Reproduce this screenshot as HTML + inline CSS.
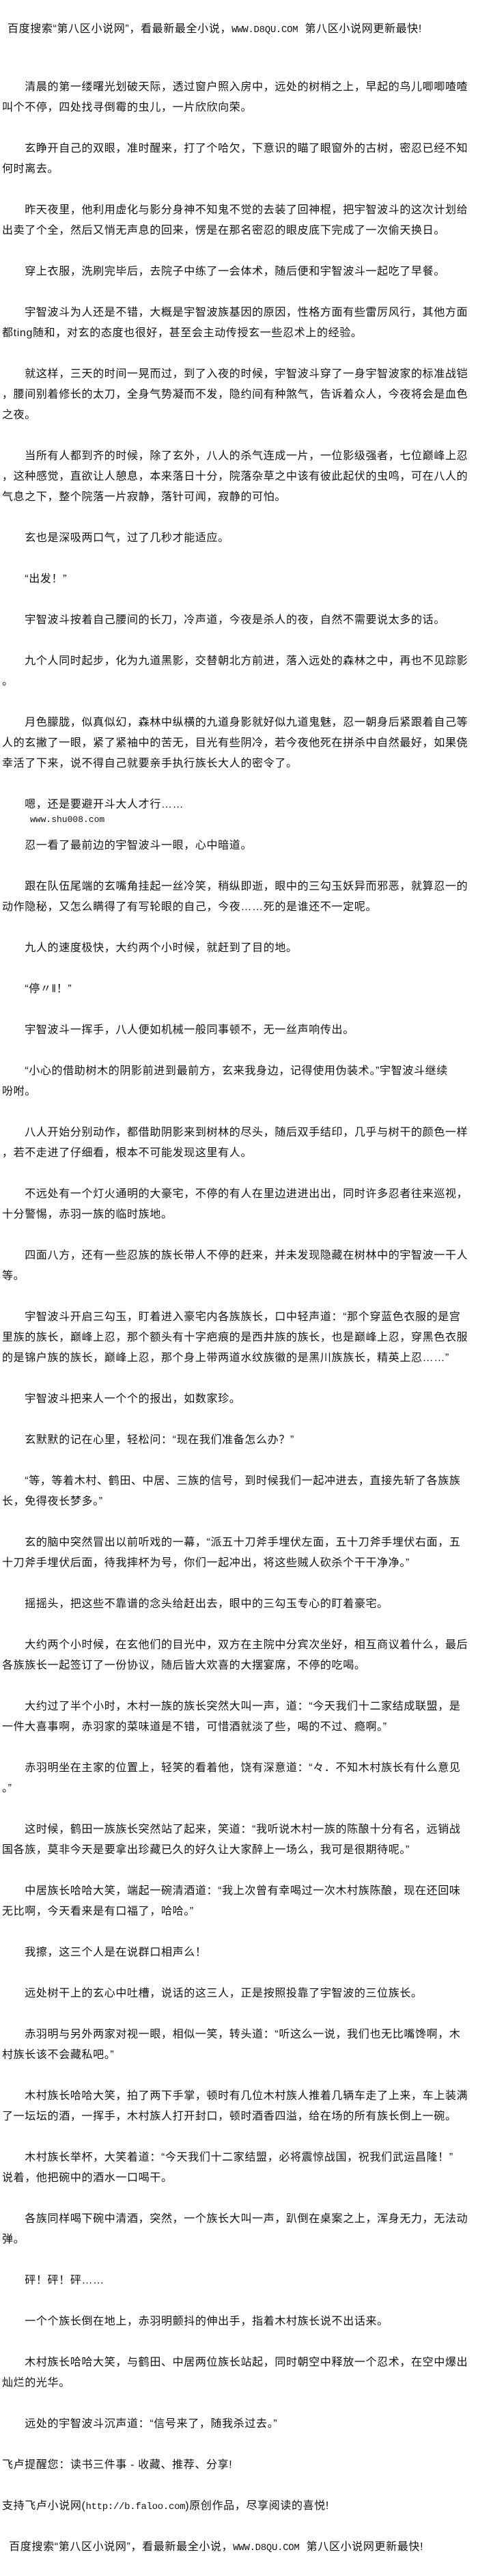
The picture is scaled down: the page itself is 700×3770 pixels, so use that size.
<!DOCTYPE html>
<html><head><meta charset="utf-8">
<style>
html,body{margin:0;padding:0;background:#fff;}
body{width:700px;height:3770px;position:relative;overflow:hidden;color:#111;
font-family:"Liberation Sans","Noto Sans CJK SC",sans-serif;font-size:16px;}
#c{position:absolute;left:3px;top:113px;width:700px;}
#c div{height:30px;line-height:30px;white-space:pre;letter-spacing:0.64px;}
.hd{position:absolute;left:11px;height:30px;line-height:30px;white-space:pre;letter-spacing:0.64px;}
.m{font-family:"Liberation Mono",monospace;font-size:14px;letter-spacing:-0.3px;}
#www{position:absolute;left:44px;top:1193px;line-height:14px;font-family:"Liberation Mono",monospace;font-size:13px;}
</style></head><body>
<div class="hd" style="top:28px">百度搜索“第八区小说网”，看最新最全小说，<span class="m">WWW.D8QU.COM</span>  第八区小说网更新最快!</div>
<div id="www">www.shu008.com</div>
<div id="c">
<div>　　清晨的第一缕曙光划破天际，透过窗户照入房中，远处的树梢之上，早起的鸟儿唧唧喳喳</div>
<div>叫个不停，四处找寻倒霉的虫儿，一片欣欣向荣。</div>
<div></div>
<div>　　玄睁开自己的双眼，准时醒来，打了个哈欠，下意识的瞄了眼窗外的古树，密忍已经不知</div>
<div>何时离去。</div>
<div></div>
<div>　　昨天夜里，他利用虚化与影分身神不知鬼不觉的去装了回神棍，把宇智波斗的这次计划给</div>
<div>出卖了个全，然后又悄无声息的回来，愣是在那名密忍的眼皮底下完成了一次偷天换日。</div>
<div></div>
<div>　　穿上衣服，洗刷完毕后，去院子中练了一会体术，随后便和宇智波斗一起吃了早餐。</div>
<div></div>
<div>　　宇智波斗为人还是不错，大概是宇智波族基因的原因，性格方面有些雷厉风行，其他方面</div>
<div>都ting随和，对玄的态度也很好，甚至会主动传授玄一些忍术上的经验。</div>
<div></div>
<div>　　就这样，三天的时间一晃而过，到了入夜的时候，宇智波斗穿了一身宇智波家的标准战铠</div>
<div>，腰间别着修长的太刀，全身气势凝而不发，隐约间有种煞气，告诉着众人，今夜将会是血色</div>
<div>之夜。</div>
<div></div>
<div>　　当所有人都到齐的时候，除了玄外，八人的杀气连成一片，一位影级强者，七位巅峰上忍</div>
<div>，这种感觉，直欲让人憩息，本来落日十分，院落杂草之中该有彼此起伏的虫鸣，可在八人的</div>
<div>气息之下，整个院落一片寂静，落针可闻，寂静的可怕。</div>
<div></div>
<div>　　玄也是深吸两口气，过了几秒才能适应。</div>
<div></div>
<div>　　“出发！”</div>
<div></div>
<div>　　宇智波斗按着自己腰间的长刀，冷声道，今夜是杀人的夜，自然不需要说太多的话。</div>
<div></div>
<div>　　九个人同时起步，化为九道黑影，交替朝北方前进，落入远处的森林之中，再也不见踪影</div>
<div>。</div>
<div></div>
<div>　　月色朦胧，似真似幻，森林中纵横的九道身影就好似九道鬼魅，忍一朝身后紧跟着自己等</div>
<div>人的玄撇了一眼，紧了紧袖中的苦无，目光有些阴冷，若今夜他死在拼杀中自然最好，如果侥</div>
<div>幸活了下来，说不得自己就要亲手执行族长大人的密令了。</div>
<div></div>
<div>　　嗯，还是要避开斗大人才行……</div>
<div></div>
<div>　　忍一看了最前边的宇智波斗一眼，心中暗道。</div>
<div></div>
<div>　　跟在队伍尾端的玄嘴角挂起一丝冷笑，稍纵即逝，眼中的三勾玉妖异而邪恶，就算忍一的</div>
<div>动作隐秘，又怎么瞒得了有写轮眼的自己，今夜……死的是谁还不一定呢。</div>
<div></div>
<div>　　九人的速度极快，大约两个小时候，就赶到了目的地。</div>
<div></div>
<div>　　“停〃‖！”</div>
<div></div>
<div>　　宇智波斗一挥手，八人便如机械一般同事顿不，无一丝声响传出。</div>
<div></div>
<div>　　“小心的借助树木的阴影前进到最前方，玄来我身边，记得使用伪装术。”宇智波斗继续</div>
<div>吩咐。</div>
<div></div>
<div>　　八人开始分别动作，都借助阴影来到树林的尽头，随后双手结印，几乎与树干的颜色一样</div>
<div>，若不走进了仔细看，根本不可能发现这里有人。</div>
<div></div>
<div>　　不远处有一个灯火通明的大豪宅，不停的有人在里边进进出出，同时许多忍者往来巡视，</div>
<div>十分警惕，赤羽一族的临时族地。</div>
<div></div>
<div>　　四面八方，还有一些忍族的族长带人不停的赶来，并未发现隐藏在树林中的宇智波一干人</div>
<div>等。</div>
<div></div>
<div>　　宇智波斗开启三勾玉，盯着进入豪宅内各族族长，口中轻声道：“那个穿蓝色衣服的是宫</div>
<div>里族的族长，巅峰上忍，那个额头有十字疤痕的是西井族的族长，也是巅峰上忍，穿黑色衣服</div>
<div>的是锦户族的族长，巅峰上忍，那个身上带两道水纹族徽的是黑川族族长，精英上忍……”</div>
<div></div>
<div>　　宇智波斗把来人一个个的报出，如数家珍。</div>
<div></div>
<div>　　玄默默的记在心里，轻松问：“现在我们准备怎么办？”</div>
<div></div>
<div>　　“等，等着木村、鹤田、中居、三族的信号，到时候我们一起冲进去，直接先斩了各族族</div>
<div>长，免得夜长梦多。”</div>
<div></div>
<div>　　玄的脑中突然冒出以前听戏的一幕，“派五十刀斧手埋伏左面，五十刀斧手埋伏右面，五</div>
<div>十刀斧手埋伏后面，待我摔杯为号，你们一起冲出，将这些贼人砍杀个干干净净。”</div>
<div></div>
<div>　　摇摇头，把这些不靠谱的念头给赶出去，眼中的三勾玉专心的盯着豪宅。</div>
<div></div>
<div>　　大约两个小时候，在玄他们的目光中，双方在主院中分宾次坐好，相互商议着什么，最后</div>
<div>各族族长一起签订了一份协议，随后皆大欢喜的大摆宴席，不停的吃喝。</div>
<div></div>
<div>　　大约过了半个小时，木村一族的族长突然大叫一声，道：“今天我们十二家结成联盟，是</div>
<div>一件大喜事啊，赤羽家的菜味道是不错，可惜酒就淡了些，喝的不过、瘾啊。”</div>
<div></div>
<div>　　赤羽明坐在主家的位置上，轻笑的看着他，饶有深意道：“々．不知木村族长有什么意见</div>
<div>。”</div>
<div></div>
<div>　　这时候，鹤田一族族长突然站了起来，笑道：“我听说木村一族的陈酿十分有名，远销战</div>
<div>国各族，莫非今天是要拿出珍藏已久的好久让大家醉上一场么，我可是很期待呢。”</div>
<div></div>
<div>　　中居族长哈哈大笑，端起一碗清酒道：“我上次曾有幸喝过一次木村族陈酿，现在还回味</div>
<div>无比啊，今天看来是有口福了，哈哈。”</div>
<div></div>
<div>　　我擦，这三个人是在说群口相声么！</div>
<div></div>
<div>　　远处树干上的玄心中吐槽，说话的这三人，正是按照投靠了宇智波的三位族长。</div>
<div></div>
<div>　　赤羽明与另外两家对视一眼，相似一笑，转头道：“听这么一说，我们也无比嘴馋啊，木</div>
<div>村族长该不会藏私吧。”</div>
<div></div>
<div>　　木村族长哈哈大笑，拍了两下手掌，顿时有几位木村族人推着几辆车走了上来，车上装满</div>
<div>了一坛坛的酒，一挥手，木村族人打开封口，顿时酒香四溢，给在场的所有族长倒上一碗。</div>
<div></div>
<div>　　木村族长举杯，大笑着道：“今天我们十二家结盟，必将震惊战国，祝我们武运昌隆！”</div>
<div>说着，他把碗中的酒水一口喝干。</div>
<div></div>
<div>　　各族同样喝下碗中清酒，突然，一个族长大叫一声，趴倒在桌案之上，浑身无力，无法动</div>
<div>弹。</div>
<div></div>
<div>　　砰！砰！砰……</div>
<div></div>
<div>　　一个个族长倒在地上，赤羽明颤抖的伸出手，指着木村族长说不出话来。</div>
<div></div>
<div>　　木村族长哈哈大笑，与鹤田、中居两位族长站起，同时朝空中释放一个忍术，在空中爆出</div>
<div>灿烂的光华。</div>
<div></div>
<div>　　远处的宇智波斗沉声道：“信号来了，随我杀过去。”</div>
<div></div>
<div>飞卢提醒您：读书三件事 - 收藏、推荐、分享!</div>
<div></div>
<div>支持飞卢小说网(<span class="m">http://b.faloo.com</span>)原创作品，尽享阅读的喜悦!</div>
<div></div>
<div>  百度搜索“第八区小说网”，看最新最全小说，<span class="m">WWW.D8QU.COM</span>  第八区小说网更新最快!</div>
</div>
</body></html>
